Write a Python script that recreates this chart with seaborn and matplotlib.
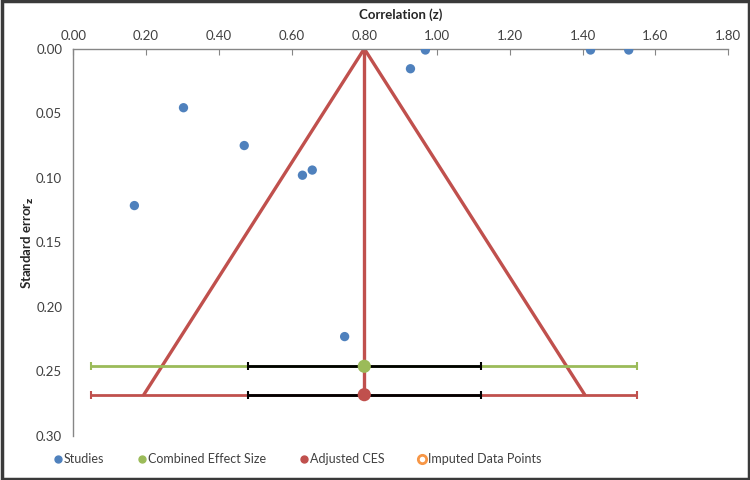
import numpy as np
import pandas as pd
import matplotlib
matplotlib.use('Agg')
import matplotlib.pyplot as plt
import seaborn as sns
from matplotlib.lines import Line2D
from matplotlib.patches import Rectangle
from matplotlib.ticker import FormatStrFormatter

# studies: correlation (z) and standard error
study_z = [0.168, 0.303, 0.470, 0.630, 0.657, 0.746, 0.927, 0.968, 1.422, 1.527]
study_se = [0.1215, 0.0457, 0.075, 0.098, 0.094, 0.223, 0.0155, 0.001, 0.001, 0.001]

# combined effect size and adjusted CES
ces_z = 0.80
ces_se = 0.246
ces_ci95 = [0.05, 1.55]
ces_ci_inner = [0.48, 1.12]

adj_z = 0.80
adj_se = 0.268
adj_ci95 = [0.05, 1.55]
adj_ci_inner = [0.48, 1.12]

# funnel outline
funnel_z = [0.194, 0.80, 1.406]
funnel_se = [0.268, 0.0, 0.268]

blue = '#4F81BD'
green = '#9BBB59'
red = '#C0504D'
orange = '#F79646'

sns.set_style('white')
plt.rcParams['font.family'] = ['Lato', 'DejaVu Sans']
plt.rcParams['font.size'] = 9

fig = plt.figure(figsize=(7.5, 4.8), dpi=100)
ax = fig.add_axes([0.0977, 0.0917, 0.873, 0.8068])

# funnel
ax.plot(funnel_z, funnel_se, color=red, lw=2.4, zorder=2)
ax.plot([adj_z, adj_z], [0, adj_se], color=red, lw=2.4, zorder=2)

# CES lines with inner black segment
for ci, inner, yv, col in [(ces_ci95, ces_ci_inner, ces_se, green),
                           (adj_ci95, adj_ci_inner, adj_se, red)]:
    ax.errorbar([np.mean(ci)], [yv], xerr=[[np.mean(ci) - ci[0]], [ci[1] - np.mean(ci)]],
                fmt='none', ecolor=col, elinewidth=2, capsize=3, capthick=1.5, zorder=3)
    ax.errorbar([np.mean(inner)], [yv],
                xerr=[[np.mean(inner) - inner[0]], [inner[1] - np.mean(inner)]],
                fmt='none', ecolor='black', elinewidth=2, capsize=3, capthick=1.5, zorder=4)

df = pd.DataFrame({'z': study_z, 'se': study_se})
sns.scatterplot(data=df, x='z', y='se', ax=ax, color=blue, s=45, edgecolor='none', zorder=5)
ax.scatter([ces_z], [ces_se], color=green, s=90, zorder=6, edgecolor='none')
ax.scatter([adj_z], [adj_se], color=red, s=90, zorder=6, edgecolor='none')

ax.set_xlim(0, 1.8)
ax.set_ylim(0.30, 0)
ax.set_xticks(np.arange(0, 1.81, 0.2))
ax.set_yticks(np.arange(0, 0.301, 0.05))
ax.xaxis.set_major_formatter(FormatStrFormatter('%.2f'))
ax.yaxis.set_major_formatter(FormatStrFormatter('%.2f'))
ax.xaxis.tick_top()
ax.xaxis.set_label_position('top')
ax.tick_params(axis='both', direction='in', length=4, color='#868686',
               labelcolor='#404040', labelsize=9.5)
ax.tick_params(axis='x', pad=5)
ax.tick_params(axis='y', pad=8)
for s in ['right', 'bottom']:
    ax.spines[s].set_visible(False)
for s in ['top', 'left']:
    ax.spines[s].set_color('#868686')
    ax.spines[s].set_linewidth(1)

ax.set_xlabel('Correlation (z)', fontweight='bold', fontsize=9.5, labelpad=8)
ax.set_ylabel('Standard error$_\\mathbf{z}$', fontweight='bold', fontsize=9.5, labelpad=0)

handles = [
    Line2D([], [], marker='o', ls='none', color=blue, markersize=5),
    Line2D([], [], marker='o', ls='none', color=green, markersize=5),
    Line2D([], [], marker='o', ls='none', color=red, markersize=5),
    Line2D([], [], marker='o', ls='none', markerfacecolor='white',
           markeredgecolor=orange, markeredgewidth=2, markersize=6),
]
labels = ['Studies', 'Combined Effect Size', 'Adjusted CES', 'Imputed Data Points']
fig.legend(handles, labels, loc='center left', bbox_to_anchor=(0.055, 0.044), ncol=4,
           frameon=False, handletextpad=0.1, columnspacing=2.6, handlelength=0.8,
           fontsize=9, labelcolor='#404040')

fig.add_artist(Rectangle((0.002, 0.003), 0.996, 0.994, transform=fig.transFigure,
                         fill=False, edgecolor='#3a3a3a', lw=2.5))

fig.savefig('out.png', dpi=100)
